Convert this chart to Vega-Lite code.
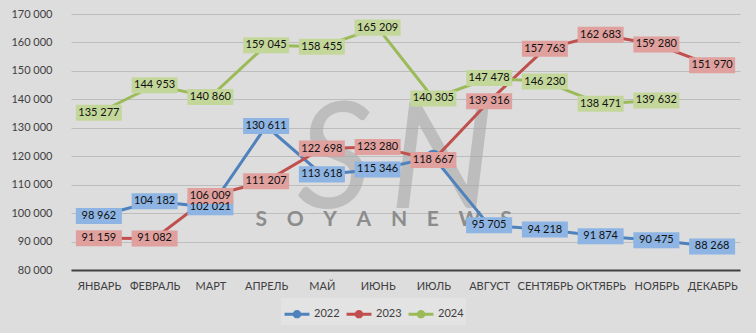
{
  "$schema": "https://vega.github.io/schema/vega-lite/v6.json",
  "autosize": "none",
  "width": 669,
  "height": 256,
  "padding": {"left": 71, "top": 14, "right": 16, "bottom": 63},
  "background": "#dddddd",
  "config": {
    "locale": {"number": {"decimal": ",", "thousands": " ", "grouping": [3], "currency": ["", ""]}},
    "view": {"stroke": null},
    "font": "Lato"
  },
  "datasets": {
    "main": [
      {"month": "ЯНВАРЬ", "series": "2022", "value": 98962},
      {"month": "ФЕВРАЛЬ", "series": "2022", "value": 104182},
      {"month": "МАРТ", "series": "2022", "value": 102021},
      {"month": "АПРЕЛЬ", "series": "2022", "value": 130611},
      {"month": "МАЙ", "series": "2022", "value": 113618},
      {"month": "ИЮНЬ", "series": "2022", "value": 115346},
      {"month": "ИЮЛЬ", "series": "2022", "value": 119700},
      {"month": "АВГУСТ", "series": "2022", "value": 95705},
      {"month": "СЕНТЯБРЬ", "series": "2022", "value": 94218},
      {"month": "ОКТЯБРЬ", "series": "2022", "value": 91874},
      {"month": "НОЯБРЬ", "series": "2022", "value": 90475},
      {"month": "ДЕКАБРЬ", "series": "2022", "value": 88268},
      {"month": "ЯНВАРЬ", "series": "2023", "value": 91159},
      {"month": "ФЕВРАЛЬ", "series": "2023", "value": 91082},
      {"month": "МАРТ", "series": "2023", "value": 106009},
      {"month": "АПРЕЛЬ", "series": "2023", "value": 111207},
      {"month": "МАЙ", "series": "2023", "value": 122698},
      {"month": "ИЮНЬ", "series": "2023", "value": 123280},
      {"month": "ИЮЛЬ", "series": "2023", "value": 118667},
      {"month": "АВГУСТ", "series": "2023", "value": 139316},
      {"month": "СЕНТЯБРЬ", "series": "2023", "value": 157763},
      {"month": "ОКТЯБРЬ", "series": "2023", "value": 162683},
      {"month": "НОЯБРЬ", "series": "2023", "value": 159280},
      {"month": "ДЕКАБРЬ", "series": "2023", "value": 151970},
      {"month": "ЯНВАРЬ", "series": "2024", "value": 135277},
      {"month": "ФЕВРАЛЬ", "series": "2024", "value": 144953},
      {"month": "МАРТ", "series": "2024", "value": 140860},
      {"month": "АПРЕЛЬ", "series": "2024", "value": 159045},
      {"month": "МАЙ", "series": "2024", "value": 158455},
      {"month": "ИЮНЬ", "series": "2024", "value": 165209},
      {"month": "ИЮЛЬ", "series": "2024", "value": 140305},
      {"month": "АВГУСТ", "series": "2024", "value": 147478},
      {"month": "СЕНТЯБРЬ", "series": "2024", "value": 146230},
      {"month": "ОКТЯБРЬ", "series": "2024", "value": 138471},
      {"month": "НОЯБРЬ", "series": "2024", "value": 139632}
    ]
  },
  "encoding": {
    "x": {
      "field": "month",
      "type": "nominal",
      "scale": {"type": "point", "padding": 0.5, "domain": ["ЯНВАРЬ", "ФЕВРАЛЬ", "МАРТ", "АПРЕЛЬ", "МАЙ", "ИЮНЬ", "ИЮЛЬ", "АВГУСТ", "СЕНТЯБРЬ", "ОКТЯБРЬ", "НОЯБРЬ", "ДЕКАБРЬ"]},
      "axis": {"title": null, "ticks": false, "domainColor": "#404040", "domainWidth": 2, "labelPadding": 10, "labelFont": "Lato", "labelFontSize": 11, "labelColor": "#404040", "labelAngle": 0, "labelOverlap": false, "grid": false}
    },
    "y": {
      "field": "value",
      "type": "quantitative",
      "scale": {"domain": [80000, 170000], "nice": false, "zero": false},
      "axis": {"title": null, "values": [80000, 90000, 100000, 110000, 120000, 130000, 140000, 150000, 160000, 170000], "format": ",.0f", "ticks": false, "domain": false, "labelPadding": 19, "labelFont": "Lato", "labelFontSize": 11, "labelColor": "#404040", "gridColor": "#bdbdbd", "gridWidth": 1}
    }
  },
  "layer": [
    {
      "data": {"values": [{"month": "ИЮНЬ", "value": 101800, "wm": "S\u2009N"}]},
      "mark": {"type": "text", "font": "Lato", "fontSize": 148, "fontWeight": "normal", "fontStyle": "italic", "color": "#a8a8a8", "opacity": 0.6, "align": "center", "baseline": "alphabetic", "dx": 18},
      "encoding": {"text": {"field": "wm"}}
    },
    {
      "data": {"values": [{"month": "ИЮНЬ", "value": 97600, "wm": "S\u2003\u2009\u200aO\u2003\u2009\u200aY\u2003\u2009\u200aA\u2003\u2009\u200aN\u2003\u2009\u200aE\u2003\u2009\u200aW\u2003\u2009\u200aS"}]},
      "mark": {"type": "text", "font": "Lato", "fontSize": 21, "fontWeight": "bold", "color": "#8c8c8c", "align": "center", "baseline": "middle", "dx": 6},
      "encoding": {"text": {"field": "wm"}}
    },
    {
      "data": {"name": "main"},
      "mark": {"type": "line", "strokeWidth": 3},
      "encoding": {
        "color": {
          "field": "series",
          "type": "nominal",
          "scale": {"domain": ["2022", "2023", "2024"], "range": ["#4f81bd", "#c0504d", "#9bbb59"]},
          "legend": {"orient": "none", "legendX": 210, "legendY": 284, "direction": "horizontal", "title": null, "symbolType": "M-1,0L1,0M-0.22,0A0.22,0.22,0,1,1,0.22,0A0.22,0.22,0,1,1,-0.22,0", "symbolSize": 620, "symbolStrokeWidth": 3, "labelFont": "Lato", "labelFontSize": 11, "labelColor": "#404040", "columnPadding": 0, "labelOffset": 3, "fillColor": "#e3e3e3", "padding": 2}
        }
      }
    },
    {
      "data": {"name": "main"},
      "mark": {"type": "point", "filled": true, "size": 220, "opacity": 1},
      "encoding": {
        "color": {"field": "series", "type": "nominal"}
      }
    },
    {
      "data": {"name": "main"},
      "transform": [{"filter": "!(datum.series == '2022' && datum.month == 'ИЮЛЬ')"}],
      "mark": {"type": "point", "shape": "M-1,-0.348L1,-0.348L1,0.348L-1,0.348Z", "filled": true, "size": 2116, "opacity": 1, "strokeWidth": 0},
      "encoding": {
        "fill": {"field": "series", "type": "nominal", "scale": {"domain": ["2022", "2023", "2024"], "range": ["#8db4e2", "#e0a09e", "#c4d79b"]}, "legend": null}
      }
    },
    {
      "data": {"name": "main"},
      "transform": [{"filter": "!(datum.series == '2022' && datum.month == 'ИЮЛЬ')"}],
      "mark": {"type": "text", "font": "Lato", "fontSize": 11, "color": "#111111", "align": "center", "baseline": "middle"},
      "encoding": {
        "text": {"field": "value", "type": "quantitative", "format": ","}
      }
    }
  ]
}
